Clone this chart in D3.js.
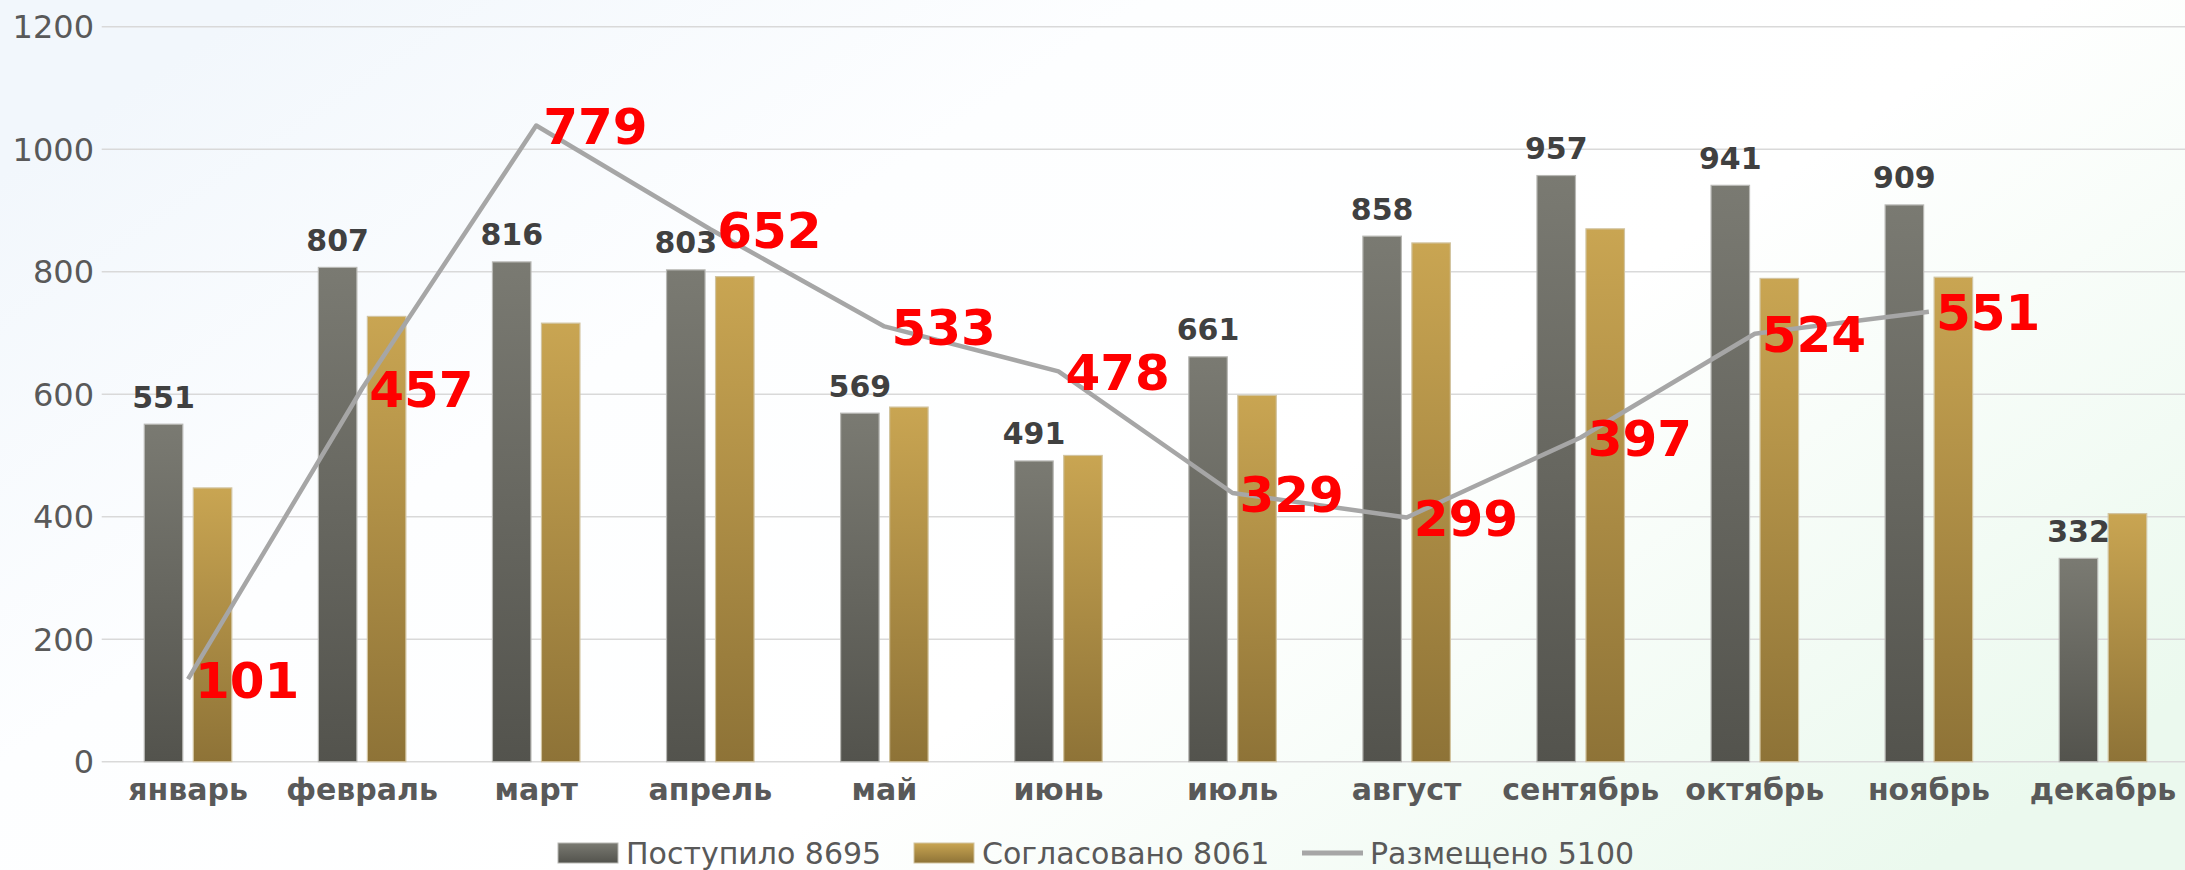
<!DOCTYPE html>
<html>
<head>
<meta charset="utf-8">
<script src="https://cdn.jsdelivr.net/npm/d3@7/dist/d3.min.js"></script>
<style>
  html, body { margin: 0; padding: 0; background: #fff; }
  svg { display: block; font-family: "DejaVu Sans", sans-serif; }
</style>
</head>
<body>
<svg id="chart" width="2185" height="870"></svg>
<script>
// ---- Data ----
const months = ["январь","февраль","март","апрель","май","июнь","июль","август","сентябрь","октябрь","ноябрь","декабрь"];
const received = [551, 807, 816, 803, 569, 491, 661, 858, 957, 941, 909, 332];   // Поступило
const approved = [447, 727, 716, 792, 579, 500, 598, 847, 870, 789, 791, 405];   // Согласовано
const placed   = [101, 457, 779, 652, 533, 478, 329, 299, 397, 524, 551, null];  // Размещено
const yTicks = [0, 200, 400, 600, 800, 1000, 1200];
const seriesNames = ["Поступило", "Согласовано", "Размещено"];
const seriesTotals = [8695, 8061, 5100];

(function () {
// ---- Layout ----
const W = 2185, H = 870;
const plotTop = 26.7, plotBottom = 761.7, plotLeft = 101.7, bandRight = 2190;

const svg = d3.select("#chart");
const defs = svg.append("defs");

// background gradient
const bg = defs.append("linearGradient").attr("id", "bg")
  .attr("x1", "0").attr("y1", "0.2").attr("x2", "1").attr("y2", "0.8");
bg.append("stop").attr("offset", "0").attr("stop-color", "#f2f7fc");
bg.append("stop").attr("offset", "0.3").attr("stop-color", "#fdfeff");
bg.append("stop").attr("offset", "0.6").attr("stop-color", "#ffffff");
bg.append("stop").attr("offset", "1").attr("stop-color", "#ebf9ee");
svg.append("rect").attr("width", W).attr("height", H).attr("fill", "url(#bg)");

const gDark = defs.append("linearGradient").attr("id", "gDark").attr("x1", 0).attr("y1", 0).attr("x2", 0).attr("y2", 1);
gDark.append("stop").attr("offset", "0").attr("stop-color", "#7a7a72");
gDark.append("stop").attr("offset", "1").attr("stop-color", "#53534d");
const gGold = defs.append("linearGradient").attr("id", "gGold").attr("x1", 0).attr("y1", 0).attr("x2", 0).attr("y2", 1);
gGold.append("stop").attr("offset", "0").attr("stop-color", "#c9a552");
gGold.append("stop").attr("offset", "1").attr("stop-color", "#8e7337");

// ---- Scales ----
const x = d3.scaleBand().domain(months).range([plotLeft - 0.7, bandRight]).paddingInner(0).paddingOuter(0);
const y = d3.scaleLinear().domain([0, 1200]).range([plotBottom, plotTop]);
const y2 = d3.scaleLinear().domain([0, 900]).range([plotBottom, plotTop]);
const keys = ["r", "a"];
const xSub = d3.scaleBand().domain(keys).range([0, 87.5]).paddingInner(10.5 / 49);

// ---- Grid ----
svg.append("g").selectAll("line").data(yTicks).join("line")
  .attr("x1", plotLeft).attr("x2", W)
  .attr("y1", d => y(d)).attr("y2", d => y(d))
  .attr("stroke", "#d9d9d9").attr("stroke-width", 1.6);

// y tick labels
svg.append("g").selectAll("text").data(yTicks).join("text")
  .attr("x", 94).attr("y", d => y(d)).attr("dy", "0.36em")
  .attr("text-anchor", "end")
  .attr("font-size", 32).attr("fill", "#595959")
  .text(d => d);

// x labels
svg.append("g").selectAll("text").data(months).join("text")
  .attr("x", d => x(d) + x.bandwidth() / 2).attr("y", 800)
  .attr("text-anchor", "middle")
  .attr("font-size", 30).attr("font-weight", "bold").attr("fill", "#595959")
  .text(d => d);

// ---- Bars ----
const groups = svg.append("g").selectAll("g").data(months).join("g")
  .attr("transform", d => `translate(${x(d) + x.bandwidth() / 2 - 43.75},0)`);

groups.append("rect")
  .attr("x", xSub("r")).attr("width", xSub.bandwidth())
  .attr("y", (d, i) => y(received[i])).attr("height", (d, i) => plotBottom - y(received[i]))
  .attr("fill", "url(#gDark)").attr("stroke", "#b8b8b4").attr("stroke-width", 1.2);

groups.append("rect")
  .attr("x", xSub("a")).attr("width", xSub.bandwidth())
  .attr("y", (d, i) => y(approved[i])).attr("height", (d, i) => plotBottom - y(approved[i]))
  .attr("fill", "url(#gGold)").attr("stroke", "#d2c4a0").attr("stroke-width", 1.2);

// value labels on dark bars
groups.append("text")
  .attr("x", xSub("r") + xSub.bandwidth() / 2)
  .attr("y", (d, i) => y(received[i]) - 16.5)
  .attr("text-anchor", "middle")
  .attr("font-size", 30).attr("font-weight", "bold").attr("fill", "#404040")
  .text((d, i) => received[i]);

// ---- Line ----
const lineData = months.map((m, i) => ({ m, v: placed[i] }));
const line = d3.line()
  .defined(d => d.v != null)
  .x(d => x(d.m) + x.bandwidth() / 2)
  .y(d => y2(d.v));
svg.append("path").datum(lineData)
  .attr("d", line)
  .attr("fill", "none").attr("stroke", "#a6a6a6").attr("stroke-width", 4.5)
  .attr("stroke-linejoin", "round");

svg.append("g").selectAll("text").data(lineData.filter(d => d.v != null)).join("text")
  .attr("x", d => x(d.m) + x.bandwidth() / 2 + 7)
  .attr("y", d => y2(d.v)).attr("dy", "0.37em")
  .attr("font-size", 50).attr("font-weight", "bold").attr("fill", "#ff0000")
  .text(d => d.v);

// ---- Legend ----
const lg = svg.append("g");
const legendItems = [
  { x: 558, kind: "rect", fill: "url(#gDark)", stroke: "#b8b8b4", label: `${seriesNames[0]} ${seriesTotals[0]}` },
  { x: 914, kind: "rect", fill: "url(#gGold)", stroke: "#d2c4a0", label: `${seriesNames[1]} ${seriesTotals[1]}` },
  { x: 1302, kind: "line", label: `${seriesNames[2]} ${seriesTotals[2]}` }
];
legendItems.forEach(it => {
  if (it.kind === "rect") {
    lg.append("rect").attr("x", it.x).attr("y", 843).attr("width", 60).attr("height", 20)
      .attr("fill", it.fill).attr("stroke", it.stroke).attr("stroke-width", 1);
  } else {
    lg.append("line").attr("x1", it.x).attr("x2", it.x + 61).attr("y1", 853).attr("y2", 853)
      .attr("stroke", "#a6a6a6").attr("stroke-width", 5);
  }
  lg.append("text").attr("x", it.x + 68).attr("y", 853).attr("dy", "0.36em")
    .attr("font-size", 30).attr("fill", "#595959").text(it.label);
});
})();
</script>
</body>
</html>
